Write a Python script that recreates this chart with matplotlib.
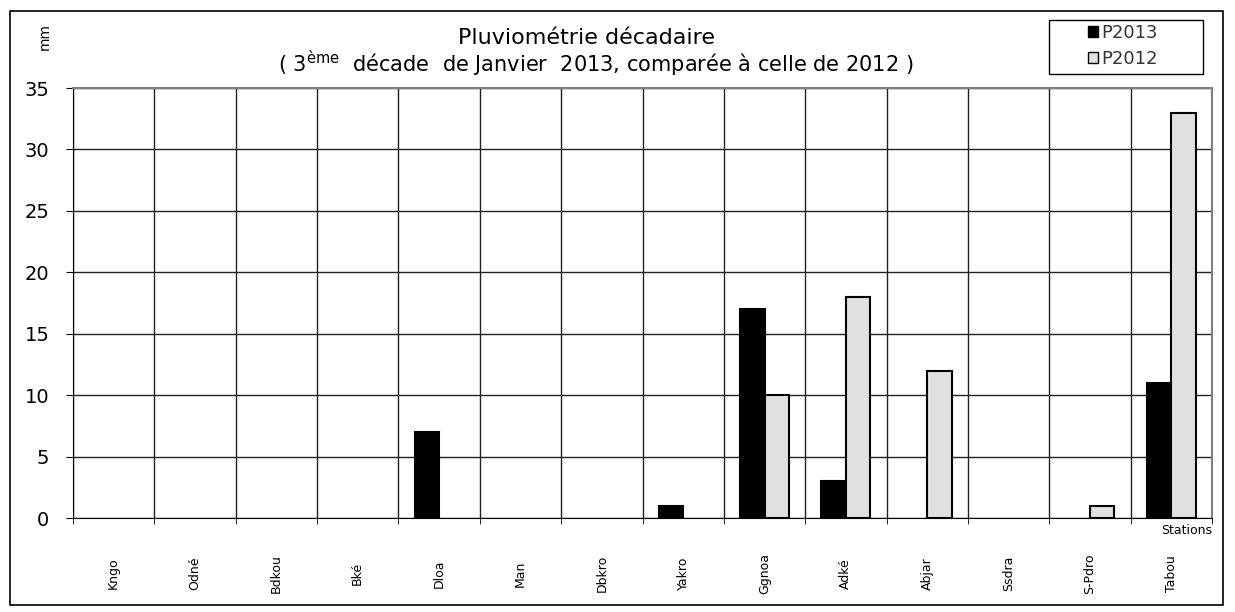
import numpy as np
import matplotlib.pyplot as plt
from matplotlib.patches import Rectangle, Patch

plt.rcParams['font.family'] = ['DejaVu Sans']

# Data
stations = ['Kngo', 'Odné', 'Bdkou', 'Bké', 'Dloa', 'Man', 'Dbkro',
            'Yakro', 'Ggnoa', 'Adké', 'Abjar', 'Ssdra', 'S-Pdro', 'Tabou']
p2013 = [0, 0, 0, 0, 7, 0, 0, 1, 17, 3, 0, 0, 0, 11]
p2012 = [0, 0, 0, 0, 0, 0, 0, 0, 10, 18, 12, 0, 1, 33]

fig = plt.figure(figsize=(12.35, 6.12), dpi=100)
# outer frame and legend box
fig.patches.append(Rectangle((10 / 1235, 7 / 612), 1213 / 1235, 594 / 612,
                             transform=fig.transFigure, fill=False,
                             edgecolor='black', linewidth=1.2))
fig.patches.append(Rectangle((1049 / 1235, 1 - 74 / 612), 154 / 1235, 54 / 612,
                             transform=fig.transFigure, fill=False,
                             edgecolor='black', linewidth=1))

ax = fig.add_axes([73 / 1235, 1 - 518 / 612, 1139 / 1235, 430 / 612])
x = np.arange(len(stations))
w = 0.3

# only draw bars with a value (zero bars are invisible in the original)
m13 = np.array(p2013) > 0
m12 = np.array(p2012) > 0
ax.bar(x[m13] - w / 2, np.array(p2013)[m13], w, color='black',
       edgecolor='black', linewidth=1.5, zorder=3)
ax.bar(x[m12] + w / 2, np.array(p2012)[m12], w, color='#e0e0e0',
       edgecolor='black', linewidth=1.5, zorder=3)

ax.set_xlim(-0.5, len(stations) - 0.5)
ax.set_ylim(0, 35)
ax.set_yticks(np.arange(0, 36, 5))
ax.tick_params(axis='y', labelsize=14, length=5, direction='out', pad=12)

ax.set_xticks(x)
ax.set_xticklabels(stations, rotation=90, fontsize=9, va='center')
ax.set_xticks(np.arange(-0.5, len(stations)), minor=True)
ax.tick_params(axis='x', which='major', length=0, pad=40)
ax.tick_params(axis='x', which='minor', length=4, direction='out')

ax.grid(True, axis='y', which='major', color='#222222', linewidth=1, zorder=0)
ax.grid(True, axis='x', which='minor', color='#222222', linewidth=1, zorder=0)
ax.set_axisbelow(True)
for side in ['top', 'right']:
    ax.spines[side].set_color('#808080')
    ax.spines[side].set_linewidth(1.5)

fig.text(586 / 1235, 1 - 38 / 612, 'Pluviométrie décadaire', ha='center',
         va='center', fontsize=16)
fig.text(596 / 1235, 1 - 63 / 612,
         '( 3$^{\\mathrm{ème}}$  décade  de Janvier  2013, comparée à celle de 2012 )',
         ha='center', va='center', fontsize=15)
fig.text(45 / 1235, 1 - 36 / 612, 'mm', rotation=90, ha='center',
         va='center', fontsize=10)
ax.text(1.0, -0.03, 'Stations', transform=ax.transAxes, ha='right',
        va='center', fontsize=9)

handles = [Patch(facecolor='black', edgecolor='black', label='P2013'),
           Patch(facecolor='#e0e0e0', edgecolor='black', label='P2012')]
leg = fig.legend(handles=handles, loc='upper left',
                 bbox_to_anchor=(1084 / 1235, 1 - 20 / 612),
                 fontsize=13, frameon=False,
                 handlelength=0.6, handleheight=0.6, handletextpad=0.15,
                 borderpad=0.2, labelspacing=0.45, borderaxespad=0)
for t in leg.get_texts():
    t.set_color('#333333')

fig.savefig('out.png', dpi=100)
